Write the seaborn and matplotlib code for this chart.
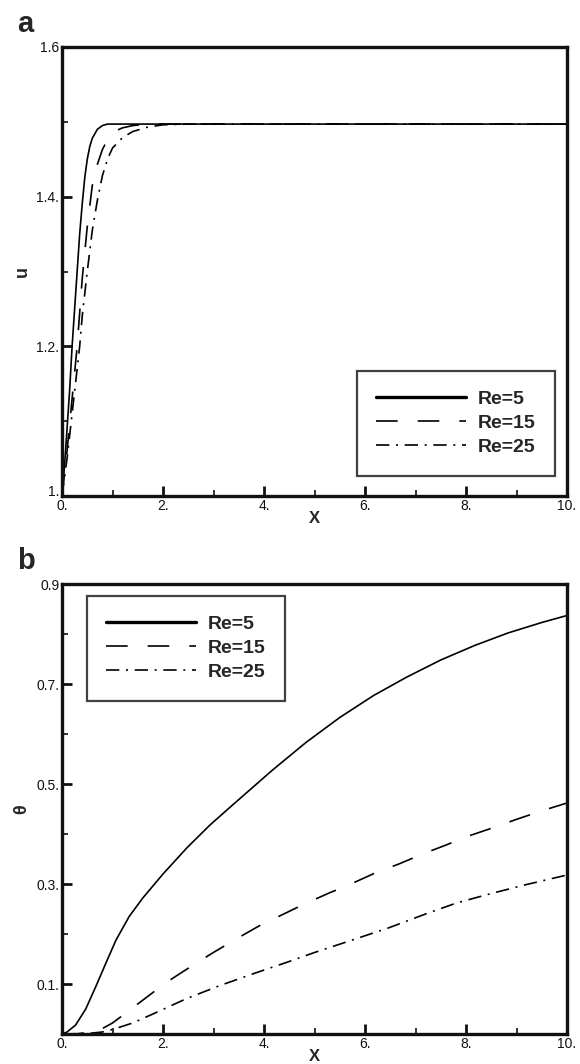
import numpy as np
import pandas as pd
import matplotlib
matplotlib.use("Agg")
import matplotlib.pyplot as plt
from matplotlib.ticker import FixedLocator, MultipleLocator
import seaborn as sns

# ---- axial velocity u along X (panel a) ----
re_labels = ["Re=5", "Re=15", "Re=25"]

u_x_re5 = [0, 0.05, 0.1, 0.15, 0.2, 0.25, 0.3, 0.35, 0.4, 0.45, 0.5, 0.55, 0.6, 0.7, 0.8, 0.9, 1.0, 1.2, 10]
u_re5 = [1.0, 1.04, 1.09, 1.14, 1.2, 1.25, 1.3, 1.35, 1.39, 1.425, 1.45, 1.467, 1.478, 1.49, 1.495,
         1.497, 1.497, 1.497, 1.497]

u_x_re15 = [0, 0.1, 0.2, 0.3, 0.4, 0.5, 0.6, 0.7, 0.8, 0.9, 1.0, 1.1, 1.2, 1.4, 1.7, 10]
u_re15 = [1.0, 1.06, 1.13, 1.2, 1.29, 1.36, 1.415, 1.443, 1.463, 1.476, 1.484, 1.489, 1.492, 1.495,
          1.497, 1.497]

u_x_re25 = [0, 0.1, 0.2, 0.3, 0.35, 0.4, 0.5, 0.6, 0.7, 0.8, 0.9, 1.0, 1.2, 1.4, 1.7, 2.0, 2.5, 10]
u_re25 = [1.0, 1.05, 1.11, 1.17, 1.2, 1.24, 1.3, 1.355, 1.395, 1.428, 1.45, 1.465, 1.479, 1.487,
          1.493, 1.496, 1.497, 1.497]

# ---- temperature theta along X (panel b) ----
t_x_re5 = [0, 0.1, 0.27, 0.47, 0.67, 0.87, 1.07, 1.33, 1.6, 2.0, 2.47, 2.93, 3.4, 3.83, 4.17, 4.83,
           5.5, 6.17, 6.83, 7.5, 8.17, 8.83, 9.5, 10]
t_re5 = [0, 0.004, 0.018, 0.05, 0.095, 0.142, 0.188, 0.235, 0.272, 0.32, 0.372, 0.418, 0.46, 0.498,
         0.528, 0.583, 0.633, 0.677, 0.714, 0.748, 0.777, 0.802, 0.823, 0.837]

t_x_re15 = [0, 0.3, 0.6, 0.8, 1.0, 1.37, 1.8, 2.17, 2.63, 3.03, 3.5, 3.9, 4.37, 4.8, 5.29, 5.72,
            6.2, 6.67, 7.14, 7.58, 8.08, 8.52, 9.02, 9.49, 10]
t_re15 = [0, 0.0005, 0.004, 0.011, 0.022, 0.05, 0.083, 0.11, 0.14, 0.165, 0.193, 0.216, 0.239,
          0.26, 0.282, 0.30, 0.322, 0.34, 0.36, 0.377, 0.397, 0.412, 0.43, 0.446, 0.462]

t_x_re25 = [0, 0.5, 0.8, 1.0, 1.4, 1.8, 2.47, 3.13, 3.8, 4.47, 5.0, 5.6, 6.46, 7.2, 7.81, 8.5, 9.16, 10]
t_re25 = [0, 0.001, 0.004, 0.009, 0.022, 0.04, 0.071, 0.097, 0.121, 0.144, 0.163, 0.183, 0.212,
          0.24, 0.262, 0.281, 0.298, 0.318]

x_ticks = [0, 2, 4, 6, 8, 10]
x_ticklabels = ["0.", "2.", "4.", "6.", "8.", "10."]
u_ticks = [1.0, 1.2, 1.4, 1.6]
u_ticklabels = ["1.", "1.2.", "1.4.", "1.6"]
t_ticks = [0.1, 0.3, 0.5, 0.7, 0.9]
t_ticklabels = ["0.1.", "0.3.", "0.5.", "0.7.", "0.9"]


def long_frame(xs, ys, yname):
    parts = []
    for lab, xv, yv in zip(re_labels, xs, ys):
        parts.append(pd.DataFrame({"X": xv, yname: yv, "Re": lab}))
    return pd.concat(parts, ignore_index=True)


df_u = long_frame([u_x_re5, u_x_re15, u_x_re25], [u_re5, u_re15, u_re25], "u")
df_t = long_frame([t_x_re5, t_x_re15, t_x_re25], [t_re5, t_re15, t_re25], "theta")

sns.set_theme(style="white")
plt.rcParams["font.family"] = ["Liberation Sans", "DejaVu Sans"]
plt.rcParams["lines.solid_joinstyle"] = "round"

W, H = 580, 1064
fig = plt.figure(figsize=(W / 100, H / 100), dpi=100)


def fig_rect(left, top, right, bottom):
    return [left / W, 1 - bottom / H, (right - left) / W, (bottom - top) / H]


ax_a = fig.add_axes(fig_rect(62, 47, 567, 496))
ax_b = fig.add_axes(fig_rect(62, 584, 567, 1034))

line_dashes = {"Re=5": "", "Re=15": (13, 12), "Re=25": (8, 4, 1.2, 4)}


def draw(ax, df, yname):
    sns.lineplot(data=df, x="X", y=yname, style="Re", style_order=re_labels,
                 dashes=line_dashes, color="black", linewidth=1.2,
                 estimator=None, sort=False, ax=ax, legend=True)


draw(ax_a, df_u, "u")
draw(ax_b, df_t, "theta")


def style_axes(ax, yticks, yticklabels, ymin, ymax, yminor, ylabel):
    ax.set_xlim(0, 10)
    ax.set_ylim(ymin, ymax)
    ax.xaxis.set_major_locator(FixedLocator(x_ticks))
    ax.set_xticklabels(x_ticklabels)
    ax.xaxis.set_minor_locator(MultipleLocator(1))
    ax.yaxis.set_major_locator(FixedLocator(yticks))
    ax.set_yticklabels(yticklabels)
    ax.yaxis.set_minor_locator(MultipleLocator(yminor))
    ax.tick_params(which="major", direction="in", length=7, width=2.0,
                   labelsize=10, pad=2, colors="#111111")
    ax.tick_params(which="minor", direction="in", length=4.5, width=1.2, colors="#111111")
    ax.tick_params(axis="both", which="both", bottom=True, left=True, top=False, right=False)
    for s in ax.spines.values():
        s.set_visible(True)
        s.set_linewidth(2.4)
        s.set_color("#111111")
    ax.set_xlabel("X", fontsize=12, fontweight="bold", labelpad=-1)
    ax.set_ylabel(ylabel, fontsize=13, fontweight="bold", labelpad=4)


style_axes(ax_a, u_ticks, u_ticklabels, 1.0, 1.6, 0.1, "u")
style_axes(ax_b, t_ticks, t_ticklabels, 0.0, 0.9, 0.1, "θ")
# lowest u label sits just above the corner so it clears the "0." below it
ax_a.get_yticklabels()[0].set_verticalalignment("baseline")


def make_legend(ax, left_px, top_px):
    handles, labels = ax.get_legend_handles_labels()
    leg = ax.legend(handles, labels, loc="upper left",
                    bbox_to_anchor=(left_px / W, 1 - top_px / H),
                    bbox_transform=fig.transFigure,
                    prop={"family": "Liberation Sans", "weight": "bold", "size": 14},
                    handlelength=4.6, handletextpad=0.6, labelspacing=0.33,
                    borderpad=1.0, borderaxespad=0, frameon=True, fancybox=False)
    frame = leg.get_frame()
    frame.set_edgecolor("#111111")
    frame.set_linewidth(1.6)
    frame.set_facecolor("white")
    leg_lines = leg.get_lines()
    leg_lines[0].set_linewidth(2.4)
    return leg


make_legend(ax_a, 357, 371)
make_legend(ax_b, 87, 596)

fig.text(17 / W, 1 - 32 / H, "a", fontsize=21, fontweight="bold", ha="left", va="baseline")
fig.text(17 / W, 1 - 569 / H, "b", fontsize=21, fontweight="bold", ha="left", va="baseline")

fig.savefig("out.png", dpi=100, facecolor="white")
